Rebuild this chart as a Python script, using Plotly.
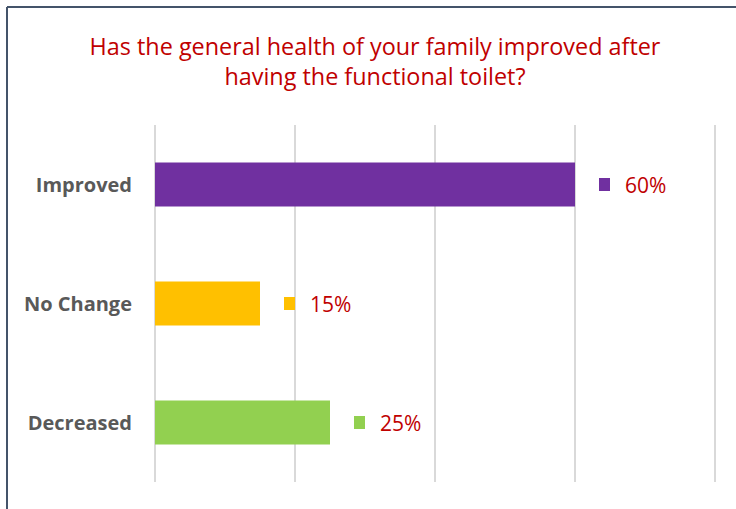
import plotly.graph_objects as go

categories = ["Improved", "No Change", "Decreased"]
shares = [60, 15, 25]
bar_colors = ["#7030A0", "#FFC000", "#92D050"]
value_labels = ["60%", "15%", "25%"]
tick_values = [0, 20, 40, 60, 80]
x_range = [0, 81]

title_text = "Has the general health of your family improved after<br>having the functional toilet?"
label_red = "#C00000"
frame_color = "#44546A"
font_name = "Open Sans"

W, H = 736, 509
L, R, T, B = 155, 14, 125, 27

fig = go.Figure()
fig.add_trace(go.Bar(
    y=categories,
    x=shares,
    orientation="h",
    marker=dict(color=bar_colors, line=dict(width=0)),
    hoverinfo="skip",
    showlegend=False,
))

# legend-key squares and value text beside each bar
for cat, val, col, txt in zip(categories, shares, bar_colors, value_labels):
    fig.add_shape(
        type="rect", xref="x", yref="y",
        xsizemode="pixel", ysizemode="pixel",
        xanchor=val, yanchor=cat,
        x0=24, x1=35, y0=-6.5, y1=6.5,
        fillcolor=col, line=dict(width=0),
    )
    fig.add_annotation(
        x=val, y=cat, xref="x", yref="y",
        text=txt, showarrow=False,
        xanchor="left", yanchor="middle", xshift=48,
        font=dict(family=font_name, size=21, color=label_red),
    )

# outer chart frame (left and top edges)
pw, ph = W - L - R, H - T - B
fx = (7 - L) / pw
fy = (H - B - 7) / ph
fig.add_shape(type="line", xref="paper", yref="paper",
              x0=fx, x1=fx, y0=-1, y1=fy,
              line=dict(color=frame_color, width=2))
fig.add_shape(type="line", xref="paper", yref="paper",
              x0=fx, x1=3, y0=fy, y1=fy,
              line=dict(color=frame_color, width=2))

fig.update_layout(
    width=W, height=H,
    margin=dict(l=L, r=R, t=T, b=B),
    paper_bgcolor="white", plot_bgcolor="white",
    bargap=0.63,
    title=dict(
        text=title_text,
        x=375 / W, xref="container", xanchor="center",
        y=1 - 55 / H, yref="container", yanchor="middle",
        font=dict(family=font_name, size=23.4, color=label_red),
    ),
    xaxis=dict(
        range=x_range, tickvals=tick_values,
        showticklabels=False, showgrid=True,
        gridcolor="#D9D9D9", gridwidth=1.5,
        zeroline=True, zerolinecolor="#D9D9D9", zerolinewidth=1.5,
        showline=False, fixedrange=True,
    ),
    yaxis=dict(
        categoryorder="array", categoryarray=categories,
        autorange="reversed",
        showgrid=False, zeroline=False, showline=False,
        ticks="outside", ticklen=18, tickcolor="rgba(0,0,0,0)",
        tickfont=dict(family=font_name, size=20, color="#595959", weight="bold"),
    ),
)

fig.write_html("out.html")
